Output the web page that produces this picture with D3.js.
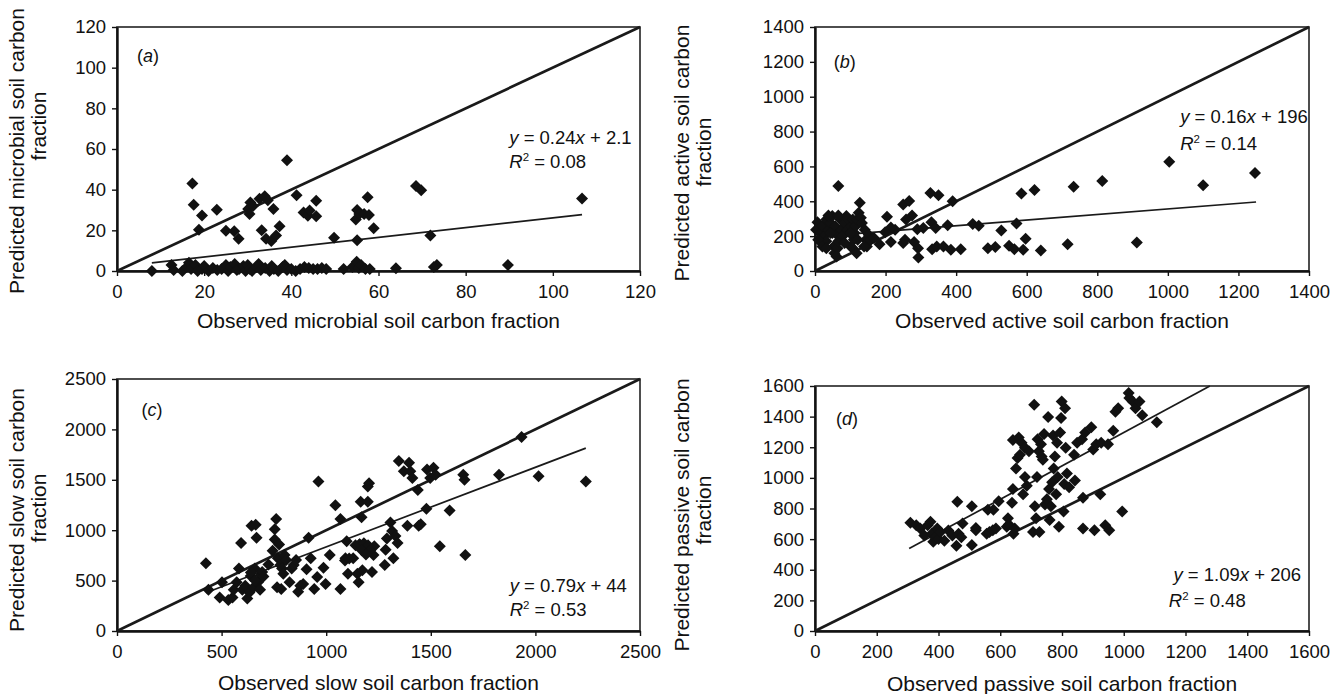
<!DOCTYPE html>
<html>
<head>
<meta charset="utf-8">
<script src="https://cdn.jsdelivr.net/npm/d3@7"></script>
<style>
  body { margin: 0; background: #fff; }
  svg text { font-family: "Liberation Sans", Arial, sans-serif; fill: #111; }
</style>
</head>
<body>
<div id="chart"></div>
<script>
// observed vs predicted
const microbialPoints = [
  [17.3,43],[17.6,32.6],[19.5,27.3],[18.8,20.3],[22.9,30.1],[25,19.8],[26.9,19.6],[27.9,15.8],
  [30.1,30.5],[30.4,28],[30.6,33.7],[31.2,32],[32.7,35.5],[33.9,36.8],[34.6,34.8],[33.2,20],
  [34.2,15.8],[35.4,14.8],[36.5,17.5],[37.3,22],[35.9,30.5],[39,54.5],[41.2,37.3],[42.8,28.8],
  [43.8,27.2],[44.2,29.7],[45.7,34.5],[45.7,26.9],[49.8,16.4],[54.8,25.3],[55.1,30],[55.6,28],
  [56.7,28],[57.5,36.3],[57.8,27.5],[58.9,21],[55.1,15.1],[68.6,41.8],[69.8,39.7],[71.9,17.5],
  [73.4,2.9],[72.7,2],[89.7,2.9],[106.7,35.7],[64,1.3],
  [8,0],[12.5,3],[13,0.5],[15,0],[16,2],[16.5,4],[17,1],[18,3],[18.5,0],[19.5,1],[20,2.5],
  [21,0],[22,1.5],[23,0.5],[24,1],[25,3],[25.5,0],[26,2],[27,3.5],[27.5,0.5],[28,1],[29,2.5],
  [29.5,0],[30,3],[30.5,1],[31,0],[32,2],[32.5,3.5],[33,0.5],[34,1.5],[35,0],[35.5,2.5],[36,1],
  [37,0],[38,2],[38.5,3],[39,0.5],[40,1],[41,0],[42,1],[43,2],[44,1.5],[45,1],[46,1],[47,1.5],
  [48,1],[52,1],[54,2],[55,4.5],[55.5,1.5],[56,3],[57,1],[58,1]
];

const activePoints = [
  [66,488],[127,392],[204,311],[250,382],[267,401],[275,318],[327,448],[350,434],[390,400],
  [376,262],[330,280],[342,247],[307,247],[290,240],[258,295],[227,237],[215,250],[199,222],
  [215,166],[250,160],[255,180],[281,166],[292,131],[293,77],[332,125],[345,141],[364,141],
  [385,122],[413,125],[447,270],[464,260],[490,131],[511,137],[528,232],[550,145],[565,125],
  [571,272],[585,444],[590,122],[597,185],[622,465],[640,118],[716,154],[733,483],[814,517],
  [912,164],[1004,627],[1100,492],[1247,562],
  [7,280],[3,237],[15,218],[21,257],[26,199],[32,295],[32,170],[38,237],[44,276],[49,218],
  [53,141],[55,102],[57,257],[62,208],[64,131],[66,170],[72,295],[75,237],[78,199],[84,276],
  [89,315],[92,237],[95,295],[99,218],[101,141],[103,257],[107,295],[110,180],[112,218],
  [115,257],[119,295],[124,334],[130,305],[133,276],[141,237],[144,180],[147,141],[152,208],
  [158,180],[167,189],[183,154],[121,180],[139,141],[9,180],[21,141],[32,131],[44,218],[61,83],
  [84,160],[101,218],[49,315],[38,318],[66,318],[107,131],[118,102]
];

const slowPoints = [
  [425,671],[437,410],[491,332],[502,484],[532,308],[552,332],[558,410],[572,484],[583,620],
  [593,874],[599,410],[613,450],[623,322],[633,383],[639,545],[643,1043],[653,433],[659,620],
  [663,1054],[667,925],[674,484],[684,410],[688,552],[694,586],[724,660],[744,796],[754,1009],
  [754,908],[761,1111],[765,433],[769,721],[775,857],[781,654],[785,417],[789,620],[795,569],
  [801,755],[809,705],[825,484],[835,620],[845,654],[856,705],[866,390],[876,450],[890,467],
  [906,613],[916,925],[926,721],[943,417],[957,535],[963,1484],[987,627],[997,467],[1017,755],
  [1044,1247],[1068,1111],[1068,417],[1092,721],[1098,891],[1104,569],[1129,721],[1149,569],
  [1155,484],[1159,857],[1165,1281],[1169,1128],[1173,603],[1179,823],[1189,789],[1199,1433],
  [1205,1467],[1199,1281],[1219,586],[1226,755],[1230,840],[1280,654],[1284,806],[1290,918],
  [1307,1077],[1315,992],[1321,721],[1331,942],[1341,874],[1347,1687],[1371,1585],[1388,1043],
  [1396,1670],[1402,1585],[1412,1518],[1438,1399],[1442,1043],[1452,1060],[1479,1213],
  [1482,1602],[1497,1518],[1513,1619],[1523,1551],[1543,840],[1590,1196],[1655,1551],
  [1661,1501],[1665,755],[1826,1551],[1934,1924],[2015,1535],[2241,1484],
  [1140,850],[1160,860],[1180,870],[1200,850],[1170,800],[1210,800],[1190,760],[1090,700],
  [1110,720],[640,580],[660,500],[700,540]
];

const passivePoints = [
  [309,707],[328,691],[341,669],[354,624],[365,691],[374,714],[378,635],[383,583],[389,613],
  [396,669],[400,601],[406,646],[419,590],[432,657],[445,624],[458,556],[461,844],[465,635],
  [474,613],[478,702],[508,561],[508,815],[521,673],[521,658],[556,635],[560,792],[565,646],
  [576,658],[578,792],[586,669],[595,848],[621,680],[625,736],[628,696],[638,837],[641,927],
  [643,635],[647,669],[641,1248],[651,1061],[656,1129],[660,1264],[664,1151],[669,1230],
  [674,893],[680,1196],[680,1005],[686,949],[693,1174],[706,646],[710,1477],[712,815],
  [716,736],[719,1005],[721,1252],[725,1174],[727,646],[732,1219],[734,1140],[738,1118],
  [742,1286],[745,826],[751,860],[755,1398],[758,927],[760,725],[764,815],[768,972],
  [771,1277],[773,1061],[777,1140],[781,893],[784,1230],[786,1005],[790,680],[794,1297],
  [797,1391],[799,1499],[805,781],[807,960],[810,1454],[812,1196],[816,1028],[823,938],
  [839,1151],[842,983],[849,1230],[865,1252],[868,871],[868,669],[875,1297],[895,1331],
  [901,1185],[905,658],[911,1219],[924,893],[927,1230],[940,691],[949,1219],[953,658],
  [966,1308],[973,1432],[982,1454],[995,781],[1016,1555],[1018,1522],[1029,1499],[1038,1454],
  [1051,1499],[1060,1409],[1107,1364]
];

const microbialTicks = [0, 20, 40, 60, 80, 100, 120];
const activeTicks = [0, 200, 400, 600, 800, 1000, 1200, 1400];
const slowTicks = [0, 500, 1000, 1500, 2000, 2500];
const passiveTicks = [0, 200, 400, 600, 800, 1000, 1200, 1400, 1600];

const panelLetters = ["a", "b", "c", "d"];
const xTitles = [
  "Observed microbial soil carbon fraction",
  "Observed active soil carbon fraction",
  "Observed slow soil carbon fraction",
  "Observed passive soil carbon fraction"
];
const yTitles = [
  "Predicted microbial soil carbon",
  "Predicted active soil carbon",
  "Predicted slow soil carbon",
  "Predicted passive soil carbon"
];
const fitSlopes = [0.24, 0.16, 0.79, 1.09];
const fitIntercepts = [2.1, 196, 44, 206];
const fitLabels = ["0.24", "0.16", "0.79", "1.09"];
const interceptLabels = ["2.1", "196", "44", "206"];
const r2Labels = ["0.08", "0.14", "0.53", "0.48"];
const fitRanges = [[8, 106.7], [0, 1250], [425, 2241], [305, 1600]];

const width = 1331, height = 694;
const svg = d3.select("#chart").append("svg")
  .attr("width", width).attr("height", height)
  .attr("viewBox", `0 0 ${width} ${height}`);

const panels = [
  { points: microbialPoints, ticks: microbialTicks, box: [117, 640, 27, 271],
    xTitleY: 321, yTitleX: [17, 39], yTitleY: [151, 126],
    letterAt: [4.6, 106], eqAt: [90, 65.8], r2At: [90, 54] },
  { points: activePoints, ticks: activeTicks, box: [815, 1309, 27, 271],
    xTitleY: 321, yTitleX: [682, 704], yTitleY: [153, 152],
    letterAt: [53, 1203], eqAt: [1035, 884], r2At: [1035, 730] },
  { points: slowPoints, ticks: slowTicks, box: [117, 640, 379, 631],
    xTitleY: 683, yTitleX: [17, 39], yTitleY: [510, 508],
    letterAt: [117, 2195], eqAt: [1877, 450], r2At: [1877, 213] },
  { points: passivePoints, ticks: passiveTicks, box: [815, 1309, 386, 631],
    xTitleY: 684, yTitleX: [682, 704], yTitleY: [515, 510],
    letterAt: [68, 1387], eqAt: [1161, 372], r2At: [1146, 197] }
];

const diamond = d3.symbol(d3.symbolSquare, 72);

panels.forEach((p, i) => {
  const [left, right, top, bottom] = p.box;
  const max = p.ticks[p.ticks.length - 1];
  const x = d3.scaleLinear().domain([0, max]).range([left, right]);
  const y = d3.scaleLinear().domain([0, max]).range([bottom, top]);
  const g = svg.append("g");

  g.append("rect")
    .attr("x", left).attr("y", top)
    .attr("width", right - left).attr("height", bottom - top)
    .attr("fill", "none").attr("stroke", "#222").attr("stroke-width", 1.6);

  const styleAxis = (ax) => {
    ax.select(".domain").attr("stroke", "#111").attr("stroke-width", 2.4);
    ax.selectAll(".tick line").attr("stroke", "#111").attr("stroke-width", 1.4);
    ax.selectAll(".tick text").attr("font-size", 18.5).attr("fill", "#111")
      .attr("font-family", "'Liberation Sans', Arial, sans-serif");
  };

  g.append("g").attr("transform", `translate(0,${bottom})`)
    .call(d3.axisBottom(x).tickValues(p.ticks).tickSize(5).tickSizeOuter(0)
      .tickPadding(9).tickFormat(d3.format("d")))
    .call(styleAxis);
  g.append("g").attr("transform", `translate(${left},0)`)
    .call(d3.axisLeft(y).tickValues(p.ticks).tickSize(5).tickSizeOuter(0)
      .tickPadding(6).tickFormat(d3.format("d")))
    .call(styleAxis);

  // 1:1 line
  g.append("line")
    .attr("x1", x(0)).attr("y1", y(0)).attr("x2", x(max)).attr("y2", y(max))
    .attr("stroke", "#1a1a1a").attr("stroke-width", 2.7);

  // fitted line, cut where it leaves the plot
  const [f0, f1raw] = fitRanges[i];
  const f1 = Math.min(f1raw, (max - fitIntercepts[i]) / fitSlopes[i]);
  g.append("line")
    .attr("x1", x(f0)).attr("y1", y(fitSlopes[i] * f0 + fitIntercepts[i]))
    .attr("x2", x(f1)).attr("y2", y(fitSlopes[i] * f1 + fitIntercepts[i]))
    .attr("stroke", "#1a1a1a").attr("stroke-width", 1.7);

  g.append("g").selectAll("path")
    .data(p.points)
    .join("path")
    .attr("d", diamond)
    .attr("transform", (d) => `translate(${x(d[0])},${y(d[1])}) rotate(45)`)
    .attr("fill", "#111");

  const letter = g.append("text")
    .attr("x", x(p.letterAt[0])).attr("y", y(p.letterAt[1]))
    .attr("dy", "0.35em").attr("font-size", 18);
  letter.append("tspan").text("(");
  letter.append("tspan").attr("font-style", "italic").text(panelLetters[i]);
  letter.append("tspan").text(")");

  const eq = g.append("text")
    .attr("x", x(p.eqAt[0])).attr("y", y(p.eqAt[1]))
    .attr("dy", "0.35em").attr("font-size", 18.5);
  eq.append("tspan").attr("font-style", "italic").text("y");
  eq.append("tspan").text(` = ${fitLabels[i]}`);
  eq.append("tspan").attr("font-style", "italic").text("x");
  eq.append("tspan").text(` + ${interceptLabels[i]}`);

  const r2 = g.append("text")
    .attr("x", x(p.r2At[0])).attr("y", y(p.r2At[1]))
    .attr("dy", "0.35em").attr("font-size", 18.5);
  r2.append("tspan").attr("font-style", "italic").text("R");
  r2.append("tspan").attr("font-size", 11.5).attr("dy", -7).text("2");
  r2.append("tspan").attr("dy", 7).text(` = ${r2Labels[i]}`);

  g.append("text")
    .attr("x", (left + right) / 2).attr("y", p.xTitleY)
    .attr("dy", "0.35em").attr("text-anchor", "middle").attr("font-size", 21)
    .text(xTitles[i]);

  g.append("text")
    .attr("transform", `translate(${p.yTitleX[0]},${p.yTitleY[0]}) rotate(-90)`)
    .attr("dy", "0.35em").attr("text-anchor", "middle").attr("font-size", 21)
    .text(yTitles[i]);
  g.append("text")
    .attr("transform", `translate(${p.yTitleX[1]},${p.yTitleY[1]}) rotate(-90)`)
    .attr("dy", "0.35em").attr("text-anchor", "middle").attr("font-size", 21)
    .text("fraction");
});
</script>
</body>
</html>
